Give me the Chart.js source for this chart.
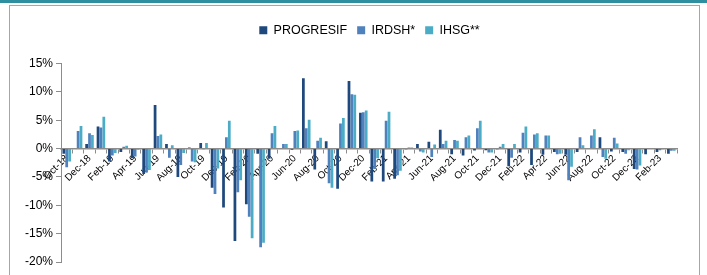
<!DOCTYPE html>
<html>
<head>
<meta charset="utf-8">
<script src="https://cdn.jsdelivr.net/npm/chart.js@4/dist/chart.umd.min.js"></script>
<style>
  html, body { margin: 0; padding: 0; background: #fff; }
  #wrap { position: relative; width: 707px; height: 275px; overflow: hidden; }
  #topline { position: absolute; left: 0; top: 0; width: 707px; height: 3px; background: #2e8fa0; }
  #frame { position: absolute; left: 9px; top: 5px; width: 691px; height: 290px; border: 1px solid #a6a6a6; box-sizing: border-box; }
  canvas { position: absolute; left: 0; top: 0; }
</style>
</head>
<body>
<div id="wrap">
  <div id="topline"></div>
  <div id="frame"></div>
  <canvas id="c" width="707" height="275"></canvas>
</div>
<script>
const months = [
  'Oct-18','Nov-18','Dec-18',
  'Jan-19','Feb-19','Mar-19','Apr-19','May-19','Jun-19','Jul-19','Aug-19','Sep-19','Oct-19','Nov-19','Dec-19',
  'Jan-20','Feb-20','Mar-20','Apr-20','May-20','Jun-20','Jul-20','Aug-20','Sep-20','Oct-20','Nov-20','Dec-20',
  'Jan-21','Feb-21','Mar-21','Apr-21','May-21','Jun-21','Jul-21','Aug-21','Sep-21','Oct-21','Nov-21','Dec-21',
  'Jan-22','Feb-22','Mar-22','Apr-22','May-22','Jun-22','Jul-22','Aug-22','Sep-22','Oct-22','Nov-22','Dec-22',
  'Jan-23','Feb-23','Mar-23'
];

const progresif = [
  -0.9, 0.0, 0.8, 3.9, -2.3, -0.6, -1.7, -4.5, 7.7, 0.8,
  -5.0, 0.2, 1.0, -6.9, -10.4, -16.3, -9.8, -0.9, -1.8, 0.0,
  -0.2, 12.4, -3.7, 1.3, -7.1, 11.9, 6.3, -5.8, -5.8, -5.3,
  -0.1, 0.8, 1.2, 3.3, -1.0, -1.2, -0.35, -0.3, -0.1, -3.1,
  -0.7, -2.9, -1.1, -0.6, -1.1, -0.6, 0.0, 2.0, -0.5, -0.6,
  -3.6, -1.0, -0.6, -0.9
];

const irdsh = [
  -3.3, 3.1, 2.7, 3.7, -1.2, 0.3, -1.4, -4.2, 2.2, -1.6,
  -2.9, -2.3, -0.1, -8.0, 2.0, -7.7, -12.0, -17.4, 2.7, 0.8,
  3.1, 3.6, 1.4, -6.1, 4.4, 9.6, 6.4, -3.6, 4.9, -4.7,
  0.2, -0.5, -1.5, 0.8, 1.5, 2.0, 3.6, -0.7, 0.3, -1.6,
  2.8, 2.5, 2.3, -1.0, -5.6, 2.0, 2.3, -1.5, 1.9, -0.9,
  -3.7, 0.0, -0.3, -0.4
];

const ihsg = [
  -2.3, 4.0, 2.4, 5.6, -0.8, 0.5, -0.2, -3.8, 2.5, 0.6,
  -0.8, -2.4, 1.0, -3.5, 4.9, -5.6, -15.8, -16.6, 4.0, 0.8,
  3.2, 5.1, 1.9, -6.9, 5.4, 9.5, 6.7, -1.7, 6.5, -3.9,
  0.2, -0.7, 0.7, 1.4, 1.4, 2.3, 4.9, -0.7, 0.8, 0.8,
  3.9, 2.7, 2.3, -0.9, -3.2, 0.6, 3.4, -1.8, 0.9, -0.3,
  -3.0, 0.0, -0.1, -0.4
];

const seriesNames = ['PROGRESIF', 'IRDSH*', 'IHSG**'];
const seriesColors = ['#1f497d', '#4f81bd', '#4bacc6'];
const yTicks = [-20, -15, -10, -5, 0, 5, 10, 15];

const FONT = "'Liberation Sans', Arial, sans-serif";

const legendGap = {
  id: 'legendGap',
  beforeLayout(chart) {
    const lg = chart.legend;
    if (lg && !lg._gapPatched) {
      const f = lg.fit;
      lg.fit = function () { f.call(this); this.height += 17; };
      lg._gapPatched = true;
    }
  },
  afterLayout(chart) {
    const lg = chart.legend;
    if (lg) { lg.left += 26; lg.right += 26; }
  }
};

new Chart(document.getElementById('c'), {
  type: 'bar',
  data: {
    labels: months,
    datasets: [progresif, irdsh, ihsg].map((d, i) => ({
      label: seriesNames[i],
      data: d,
      backgroundColor: seriesColors[i],
      borderWidth: 0,
      categoryPercentage: 0.76,
      barPercentage: 0.95
    }))
  },
  options: {
    responsive: false,
    animation: false,
    layout: { padding: { top: 14, left: 10, right: 30, bottom: 13 } },
    plugins: {
      legend: {
        position: 'top',
        labels: {
          boxWidth: 8, boxHeight: 8, padding: 10,
          color: '#000',
          font: { size: 12.5, family: FONT }
        }
      },
      tooltip: { enabled: false }
    },
    scales: {
      x: {
        position: { y: 0 },
        grid: { drawOnChartArea: false, drawTicks: true, tickLength: 4, color: '#8c8c8c' },
        border: { color: '#8c8c8c', width: 1.5 },
        ticks: {
          autoSkip: false, maxRotation: 45, minRotation: 45,
          padding: 0,
          color: '#000',
          font: { size: 10, family: FONT },
          callback: (v, i) => (i % 2 === 0 ? months[i] : '')
        }
      },
      y: {
        min: yTicks[0], max: yTicks[yTicks.length - 1],
        afterFit: (s) => { s.width = 51; },
        afterBuildTicks: (s) => { s.ticks = yTicks.map(v => ({ value: v })); },
        grid: { drawOnChartArea: false, drawTicks: true, tickLength: 5, color: '#8c8c8c' },
        border: { color: '#8c8c8c' },
        ticks: {
          padding: 3,
          color: '#000',
          font: { size: 12, family: FONT },
          callback: (v) => v + '%'
        }
      }
    }
  },
  plugins: [legendGap]
});
</script>
</body>
</html>
